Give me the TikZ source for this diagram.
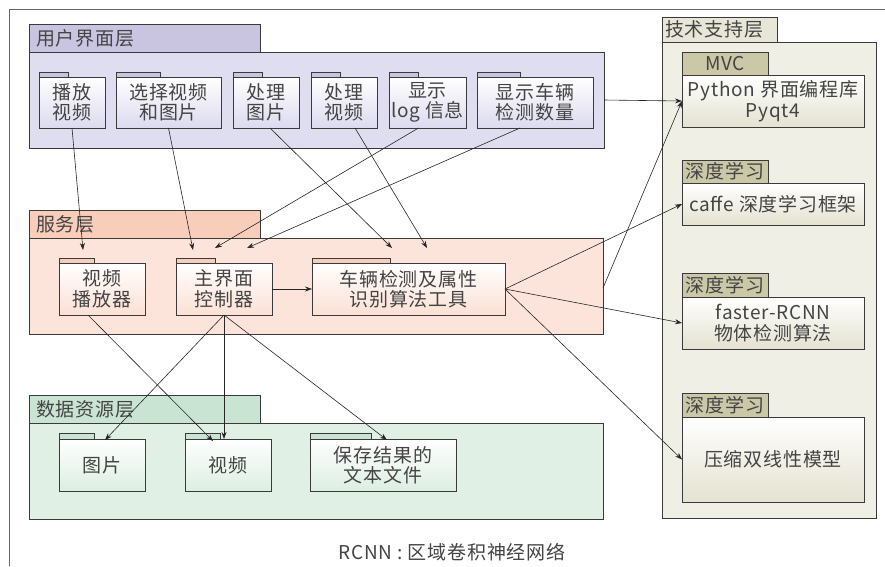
\documentclass[tikz,border=0pt]{standalone}
\usepackage{fontspec}
\setmainfont{Noto Sans CJK SC}[LetterSpace=4]
\usetikzlibrary{arrows.meta,shadows}
\definecolor{uiTab}{HTML}{C9C5E1}
\definecolor{uiBody}{HTML}{DFDDF0}
\definecolor{uiFold}{HTML}{DCDAEE}
\definecolor{svTab}{HTML}{F8CDBA}
\definecolor{svBody}{HTML}{FCE4DA}
\definecolor{svFold}{HTML}{FBE0D4}
\definecolor{dtTab}{HTML}{CAE4D3}
\definecolor{dtBody}{HTML}{E0F0E5}
\definecolor{dtFold}{HTML}{DCEEE2}
\definecolor{tsTab}{HTML}{E8E6D6}
\definecolor{tsBody}{HTML}{F0EFE6}
\definecolor{tsInTab}{HTML}{CBC8A8}
\definecolor{tsFold}{HTML}{E4E2D1}
\definecolor{edge}{HTML}{3A3A3A}
\definecolor{txt}{HTML}{444444}
\tikzset{
  box/.style={draw=edge, line width=0.9pt, inner sep=0pt, outer sep=0pt, anchor=north west, text=txt,
    drop shadow={shadow xshift=1.3pt, shadow yshift=-1.3pt, fill=black!35, opacity=0.8}},
  txtfont/.style={font=\fontsize{19}{20.5}\selectfont},
  fold/.style={box, align=center, txtfont},
  layertab/.style={box, text width=217pt, inner xsep=7pt, align=left, minimum height=28pt, txtfont},
  intab/.style={box, fill=tsInTab, minimum width=86pt, align=center, txtfont},
  arr/.style={-{Stealth[length=7pt,width=5pt]}, line width=0.6pt, draw=black!85},
}
\begin{document}
\begin{tikzpicture}[x=1pt,y=-1pt]
\useasboundingbox[fill=white] (0,0) rectangle (885,566);
% outer frame lines
\draw[black!60, line width=0.8pt] (9.5,566) -- (9.5,9.5) -- (885,9.5);

% ---------- UI layer ----------
\node[box, fill=uiBody, minimum width=575pt, minimum height=96pt] (uib) at (29,52) {};
\node[layertab, fill=uiTab] (uit) at (29,24) {用户界面层};
\node[box, fill=uiTab, minimum width=29pt, minimum height=5pt] (u1t) at (39,72) {};
\node[fold, top color=white, bottom color=uiFold, minimum width=66pt, minimum height=51pt] (u1) at (39,77) {播放\\视频};
\node[box, fill=uiTab, minimum width=44pt, minimum height=5pt] (u2t) at (116,72) {};
\node[fold, top color=white, bottom color=uiFold, minimum width=105pt, minimum height=51pt] (u2) at (116,77) {选择视频\\和图片};
\node[box, fill=uiTab, minimum width=29pt, minimum height=5pt] (u3t) at (233,72) {};
\node[fold, top color=white, bottom color=uiFold, minimum width=66pt, minimum height=51pt] (u3) at (233,77) {处理\\图片};
\node[box, fill=uiTab, minimum width=29pt, minimum height=5pt] (u4t) at (311,72) {};
\node[fold, top color=white, bottom color=uiFold, minimum width=66pt, minimum height=51pt] (u4) at (311,77) {处理\\视频};
\node[box, fill=uiTab, minimum width=29pt, minimum height=5pt] (u5t) at (389,72) {};
\node[fold, top color=white, bottom color=uiFold, minimum width=77pt, minimum height=51pt] (u5) at (389,77) {显示\\log 信息};
\node[box, fill=uiTab, minimum width=43pt, minimum height=5pt] (u6t) at (477,72) {};
\node[fold, top color=white, bottom color=uiFold, minimum width=116pt, minimum height=51pt] (u6) at (477,77) {显示车辆\\检测数量};

% ---------- Service layer ----------
\node[box, fill=svBody, minimum width=574pt, minimum height=96pt] (svb) at (29,238) {};
\node[layertab, fill=svTab] (svt) at (29,210) {服务层};
\node[box, fill=svTab, minimum width=35pt, minimum height=5pt] (s1t) at (59,258) {};
\node[fold, top color=white, bottom color=svFold, minimum width=86pt, minimum height=52pt] (s1) at (59,263) {视频\\播放器};
\node[box, fill=svTab, minimum width=39pt, minimum height=5pt] (s2t) at (176,258) {};
\node[fold, top color=white, bottom color=svFold, minimum width=96pt, minimum height=52pt] (s2) at (176,263) {主界面\\控制器};
\node[box, fill=svTab, minimum width=78pt, minimum height=5pt] (s3t) at (312,258) {};
\node[fold, top color=white, bottom color=svFold, minimum width=193pt, minimum height=52pt] (s3) at (312,263) {车辆检测及属性\\识别算法工具};

% ---------- Data layer ----------
\node[box, fill=dtBody, minimum width=574pt, minimum height=96pt] (dtb) at (29,423) {};
\node[layertab, fill=dtTab] (dtt) at (29,395) {数据资源层};
\node[box, fill=dtTab, minimum width=35pt, minimum height=6pt] (d1t) at (59,433) {};
\node[fold, top color=white, bottom color=dtFold, minimum width=86pt, minimum height=52pt] (d1) at (59,439) {图片};
\node[box, fill=dtTab, minimum width=35pt, minimum height=6pt] (d2t) at (185,433) {};
\node[fold, top color=white, bottom color=dtFold, minimum width=86pt, minimum height=52pt] (d2) at (185,439) {视频};
\node[box, fill=dtTab, minimum width=61pt, minimum height=6pt] (d3t) at (310,433) {};
\node[fold, top color=white, bottom color=dtFold, minimum width=146pt, minimum height=52pt] (d3) at (310,439) {保存结果的\\文本文件};

% ---------- Tech support layer ----------
\node[box, fill=tsBody, minimum width=214pt, minimum height=476pt] (tsb) at (662,42) {};
\node[box, fill=tsTab, minimum width=115pt, minimum height=25pt, text width=109pt, inner xsep=3pt, align=left, txtfont] (tst) at (662,17) {技术支持层};
\node[intab, minimum height=23pt] (t1t) at (682,52) {MVC};
\node[fold, top color=white, bottom color=tsFold, minimum width=182pt, minimum height=52pt] (t1) at (682,75) {Python 界面编程库\\Pyqt4};
\node[intab, minimum height=23pt] (t2t) at (682,160) {深度学习};
\node[fold, top color=white, bottom color=tsFold, minimum width=182pt, minimum height=42pt] (t2) at (682,183) {caffe 深度学习框架};
\node[intab, minimum height=24pt] (t3t) at (682,273) {深度学习};
\node[fold, top color=white, bottom color=tsFold, minimum width=182pt, minimum height=52pt] (t3) at (682,297) {faster-RCNN\\物体检测算法};
\node[intab, minimum height=24pt] (t4t) at (682,393) {深度学习};
\node[fold, top color=white, bottom color=tsFold, minimum width=182pt, minimum height=85pt] (t4) at (682,417) {压缩双线性模型};

% caption
\node[text=txt, txtfont] (cap) at (452,552) {RCNN : 区域卷积神经网络};

% ---------- arrow tips ----------
\coordinate (e1) at (83,250);
\coordinate (e2) at (193,250);
\coordinate (e3) at (392,248);
\coordinate (e4) at (427,248);
\coordinate (e5) at (215,248);
\coordinate (e6) at (247,248);

% ---------- connectors ----------
\draw[arr] (u1.south) -- (e1);
\draw[arr] (u2.south) -- (e2);
\draw[arr] ([xshift=4pt]u3.south) -- (e3);
\draw[arr] ([xshift=11pt]u4.south) -- (e4);
\draw[arr] ([xshift=-9pt]u5.south) -- (e5);
\draw[arr] ([xshift=-15pt]u6.south) -- (e6);
\draw[arr] (uib.east) -- (t1.west);
\draw[arr] ([yshift=-2pt]svb.east) -- (t1.west);
\draw[arr] (s3.east) -- (t2.west);
\draw[arr] (s3.east) -- (t3.west);
\draw[arr] (s3.east) -- (t4.west);
\draw[arr] (s2.east) -- (s3.west);
\draw[arr] ([xshift=-14pt]s1.south) -- ([xshift=-15pt,yshift=-2pt]d2.north);
\draw[arr] (s2.south) -- ([xshift=3pt,yshift=-1pt]d1.north);
\draw[arr] (s2.south) -- (s2.south |- d2.north);
\draw[arr] (s2.south) -- ([xshift=4pt,yshift=-1pt]d3.north);
\end{tikzpicture}
\end{document}
